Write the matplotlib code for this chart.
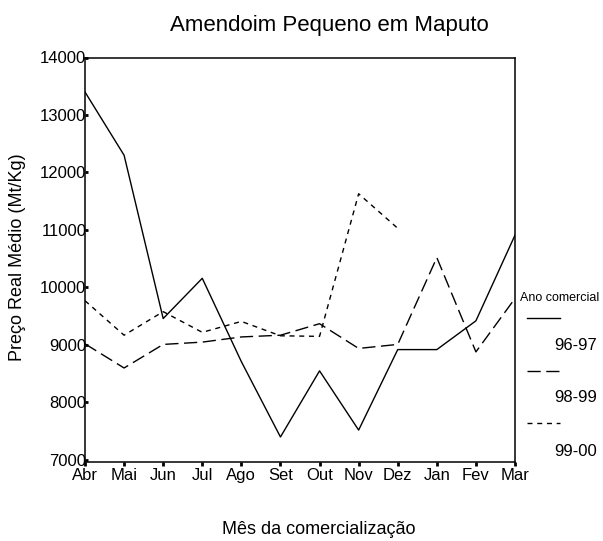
import matplotlib
matplotlib.use("Agg")
import matplotlib.pyplot as plt
from matplotlib.lines import Line2D

plt.rcParams['font.family'] = ['Liberation Sans', 'DejaVu Sans']

months = ["Abr", "Mai", "Jun", "Jul", "Ago", "Set", "Out", "Nov", "Dez", "Jan", "Fev", "Mar"]
s9697 = [13400, 12300, 9460, 10160, 8710, 7400, 8550, 7520, 8920, 8920, 9420, 10910]
s9899 = [9020, 8600, 9010, 9050, 9140, 9170, 9370, 8940, 9010, 10520, 8880, 9810]
s9900 = [9770, 9170, 9580, 9220, 9410, 9160, 9150, 11630, 11030]
series_labels = ["96-97", "98-99", "99-00"]
yticks = [7000, 8000, 9000, 10000, 11000, 12000, 13000, 14000]

W, H = 603, 541
fig = plt.figure(figsize=(W / 100, H / 100), dpi=100)
L, R, T, B = 85, 515, 57.5, 462
ax = fig.add_axes([L / W, 1 - B / H, (R - L) / W, (B - T) / H])

styles = [dict(ls='-'), dict(ls=(0, (9.5, 4))), dict(ls=(0, (3.6, 3.4)))]
xs = list(range(len(months)))
ax.plot(xs, s9697, color='black', lw=1.0, **styles[0])
ax.plot(xs, s9899, color='black', lw=1.0, **styles[1])
ax.plot(xs[:len(s9900)], s9900, color='black', lw=1.0, **styles[2])

ax.set_xlim(0, 11)
ax.set_ylim(6965, 14000)
ax.set_xticks(xs)
ax.set_xticklabels(months)
ax.set_yticks(yticks)
ax.set_yticklabels([str(v) for v in yticks])
ax.tick_params(axis='x', direction='out', length=3, width=2, pad=1, labelsize=12)
ax.tick_params(axis='y', direction='in', length=2, width=2, pad=-1, labelsize=12)
for sp in ax.spines.values():
    sp.set_linewidth(1.1)

fig.text(329 / W, 1 - 25 / H, "Amendoim Pequeno em Maputo", ha='center', va='center', fontsize=16)
fig.text(319 / W, 1 - 530 / H, "Mês da comercialização", ha='center', va='center', fontsize=13)
fig.text(18 / W, 1 - 257 / H, "Preço Real Médio (Mt/Kg)", ha='center', va='center', rotation=90, fontsize=13)

# legend
fig.text(520 / W, 1 - 298 / H, "Ano comercial", ha='left', va='center', fontsize=9)
line_y = [318, 371, 423]
lab_y = [345, 398, 452]
for i in range(3):
    fig.add_artist(Line2D([527 / W, 560 / W], [1 - line_y[i] / H] * 2, color='black', lw=1.0,
                          transform=fig.transFigure, **styles[i]))
    fig.text(554 / W, 1 - lab_y[i] / H, series_labels[i], ha='left', va='center', fontsize=12)

fig.savefig("out.png", dpi=100)
